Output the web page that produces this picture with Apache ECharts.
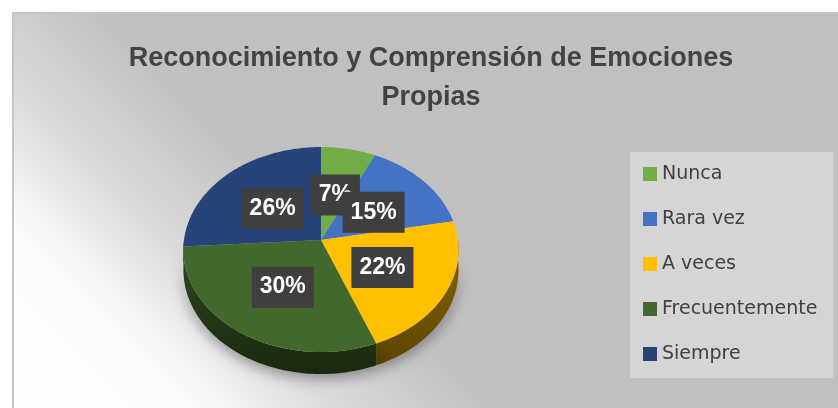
<!DOCTYPE html>
<html>
<head>
<meta charset="utf-8">
<script src="https://cdn.jsdelivr.net/npm/echarts@6/dist/echarts.min.js"></script>
<style>
  html, body { margin: 0; padding: 0; background: #fff; }
  #chart { width: 838px; height: 408px; }
</style>
</head>
<body>
<div id="chart"></div>
<script>
// datos
var categories = ['Nunca', 'Rara vez', 'A veces', 'Frecuentemente', 'Siempre'];
var values = [7, 15, 22, 30, 26];
var colors = ['#70AD47', '#4472C4', '#FFC000', '#43682B', '#264478'];
var sideColors = ['#4b7a2e', '#2e5190', '#876600', '#2e4a1e', '#1a2f55'];
var sideDark = ['#2f4d1c', '#1c335c', '#5c4500', '#1a2810', '#0f1c33'];

var total = values.reduce(function (a, b) { return a + b; }, 0);
var cum = [0];
values.forEach(function (v, i) { cum.push(cum[i] + v); });

// geometria del pastel 3D (perspectiva simple)
var cx = 321, cy = 240, rx = 137, ry = 101.6, k = 0.093, depth = 20;

function pt(t, r, dy) {
  var s = Math.sin(t), f = -Math.cos(t);
  var w = 1 - k * f * r;
  return [cx + rx * r * s / w, cy + (ry * r * f + (dy || 0)) / w];
}

function arc(a, b, dy) {
  var pts = [], n = Math.max(2, Math.ceil((b - a) / 0.02));
  for (var j = 0; j <= n; j++) pts.push(pt(a + (b - a) * j / n, 1, dy));
  return pts;
}

function renderItem(params, api) {
  var i = api.value(0);
  var a = cum[i] / total * Math.PI * 2;
  var b = cum[i + 1] / total * Math.PI * 2;
  var children = [];

  // cara lateral (solo la parte frontal)
  var sa = Math.max(a, Math.PI / 2), sb = Math.min(b, Math.PI * 1.5);
  if (sb > sa) {
    var side = arc(sa, sb, 0).concat(arc(sa, sb, depth).reverse());
    children.push({
      type: 'polygon',
      z2: 1,
      shape: { points: side },
      style: {
        fill: new echarts.graphic.LinearGradient(0, 0, 0, 1, [
          { offset: 0, color: sideColors[i] },
          { offset: 1, color: sideDark[i] }
        ]),
        shadowBlur: 14,
        shadowColor: 'rgba(0,0,0,0.35)',
        shadowOffsetY: 5
      }
    });
  }

  // cara superior
  children.push({
    type: 'polygon',
    z2: 2,
    shape: { points: [[cx, cy]].concat(arc(a, b, 0)) },
    style: { fill: colors[i] }
  });

  // etiqueta
  var p = pt((a + b) / 2, 0.5, 0);
  children.push({
    type: 'text',
    z2: 10,
    x: p[0],
    y: p[1] + 2.5,
    style: {
      text: Math.round(values[i] / total * 100) + '%',
      align: 'center',
      verticalAlign: 'middle',
      fill: '#fff',
      font: 'bold 23px "Liberation Sans", Arial, sans-serif',
      backgroundColor: '#3f3f3f',
      padding: [9, 8, 9, 8],
      boxShadowBlur: 6,
      boxShadowColor: 'rgba(0,0,0,0.4)',
      boxShadowOffsetX: 2,
      boxShadowOffsetY: 2
    }
  });

  return { type: 'group', children: children };
}

var chart = echarts.init(document.getElementById('chart'));
chart.setOption({
  animation: false,
  backgroundColor: '#fff',
  graphic: [{
    type: 'rect',
    z: -10,
    silent: true,
    shape: { x: 13, y: 13, width: 830, height: 400 },
    style: {
      fill: new echarts.graphic.LinearGradient(13, 408, 296, 125, [
        { offset: 0, color: '#ffffff' },
        { offset: 0.32, color: '#fcfcfc' },
        { offset: 0.45, color: '#ebebeb' },
        { offset: 0.56, color: '#dcdcdc' },
        { offset: 0.7, color: '#cecece' },
        { offset: 0.86, color: '#c1c1c1' },
        { offset: 1, color: '#c0c0c0' }
      ], true),
      stroke: '#c4c4c4',
      lineWidth: 2
    }
  }],
  title: {
    text: 'Reconocimiento y Comprensión de Emociones\nPropias',
    left: 431,
    top: 39,
    padding: 0,
    textAlign: 'center',
    textStyle: {
      fontFamily: '"Liberation Sans", Arial, sans-serif',
      fontSize: 27,
      fontWeight: 'bold',
      color: '#434343',
      lineHeight: 39
    }
  },
  legend: {
    orient: 'vertical',
    left: 630,
    top: 152,
    padding: [12, 16, 14, 13],
    backgroundColor: '#d5d5d5',
    icon: 'rect',
    itemWidth: 14,
    itemHeight: 14,
    itemGap: 25,
    data: categories,
    textStyle: {
      fontFamily: '"DejaVu Sans", sans-serif',
      fontSize: 19,
      lineHeight: 20,
      color: '#404040'
    }
  },
  series: categories.map(function (name, i) {
    return {
      type: 'custom',
      name: name,
      coordinateSystem: 'none',
      itemStyle: { color: colors[i] },
      data: [[i]],
      renderItem: renderItem
    };
  })
});
</script>
</body>
</html>
